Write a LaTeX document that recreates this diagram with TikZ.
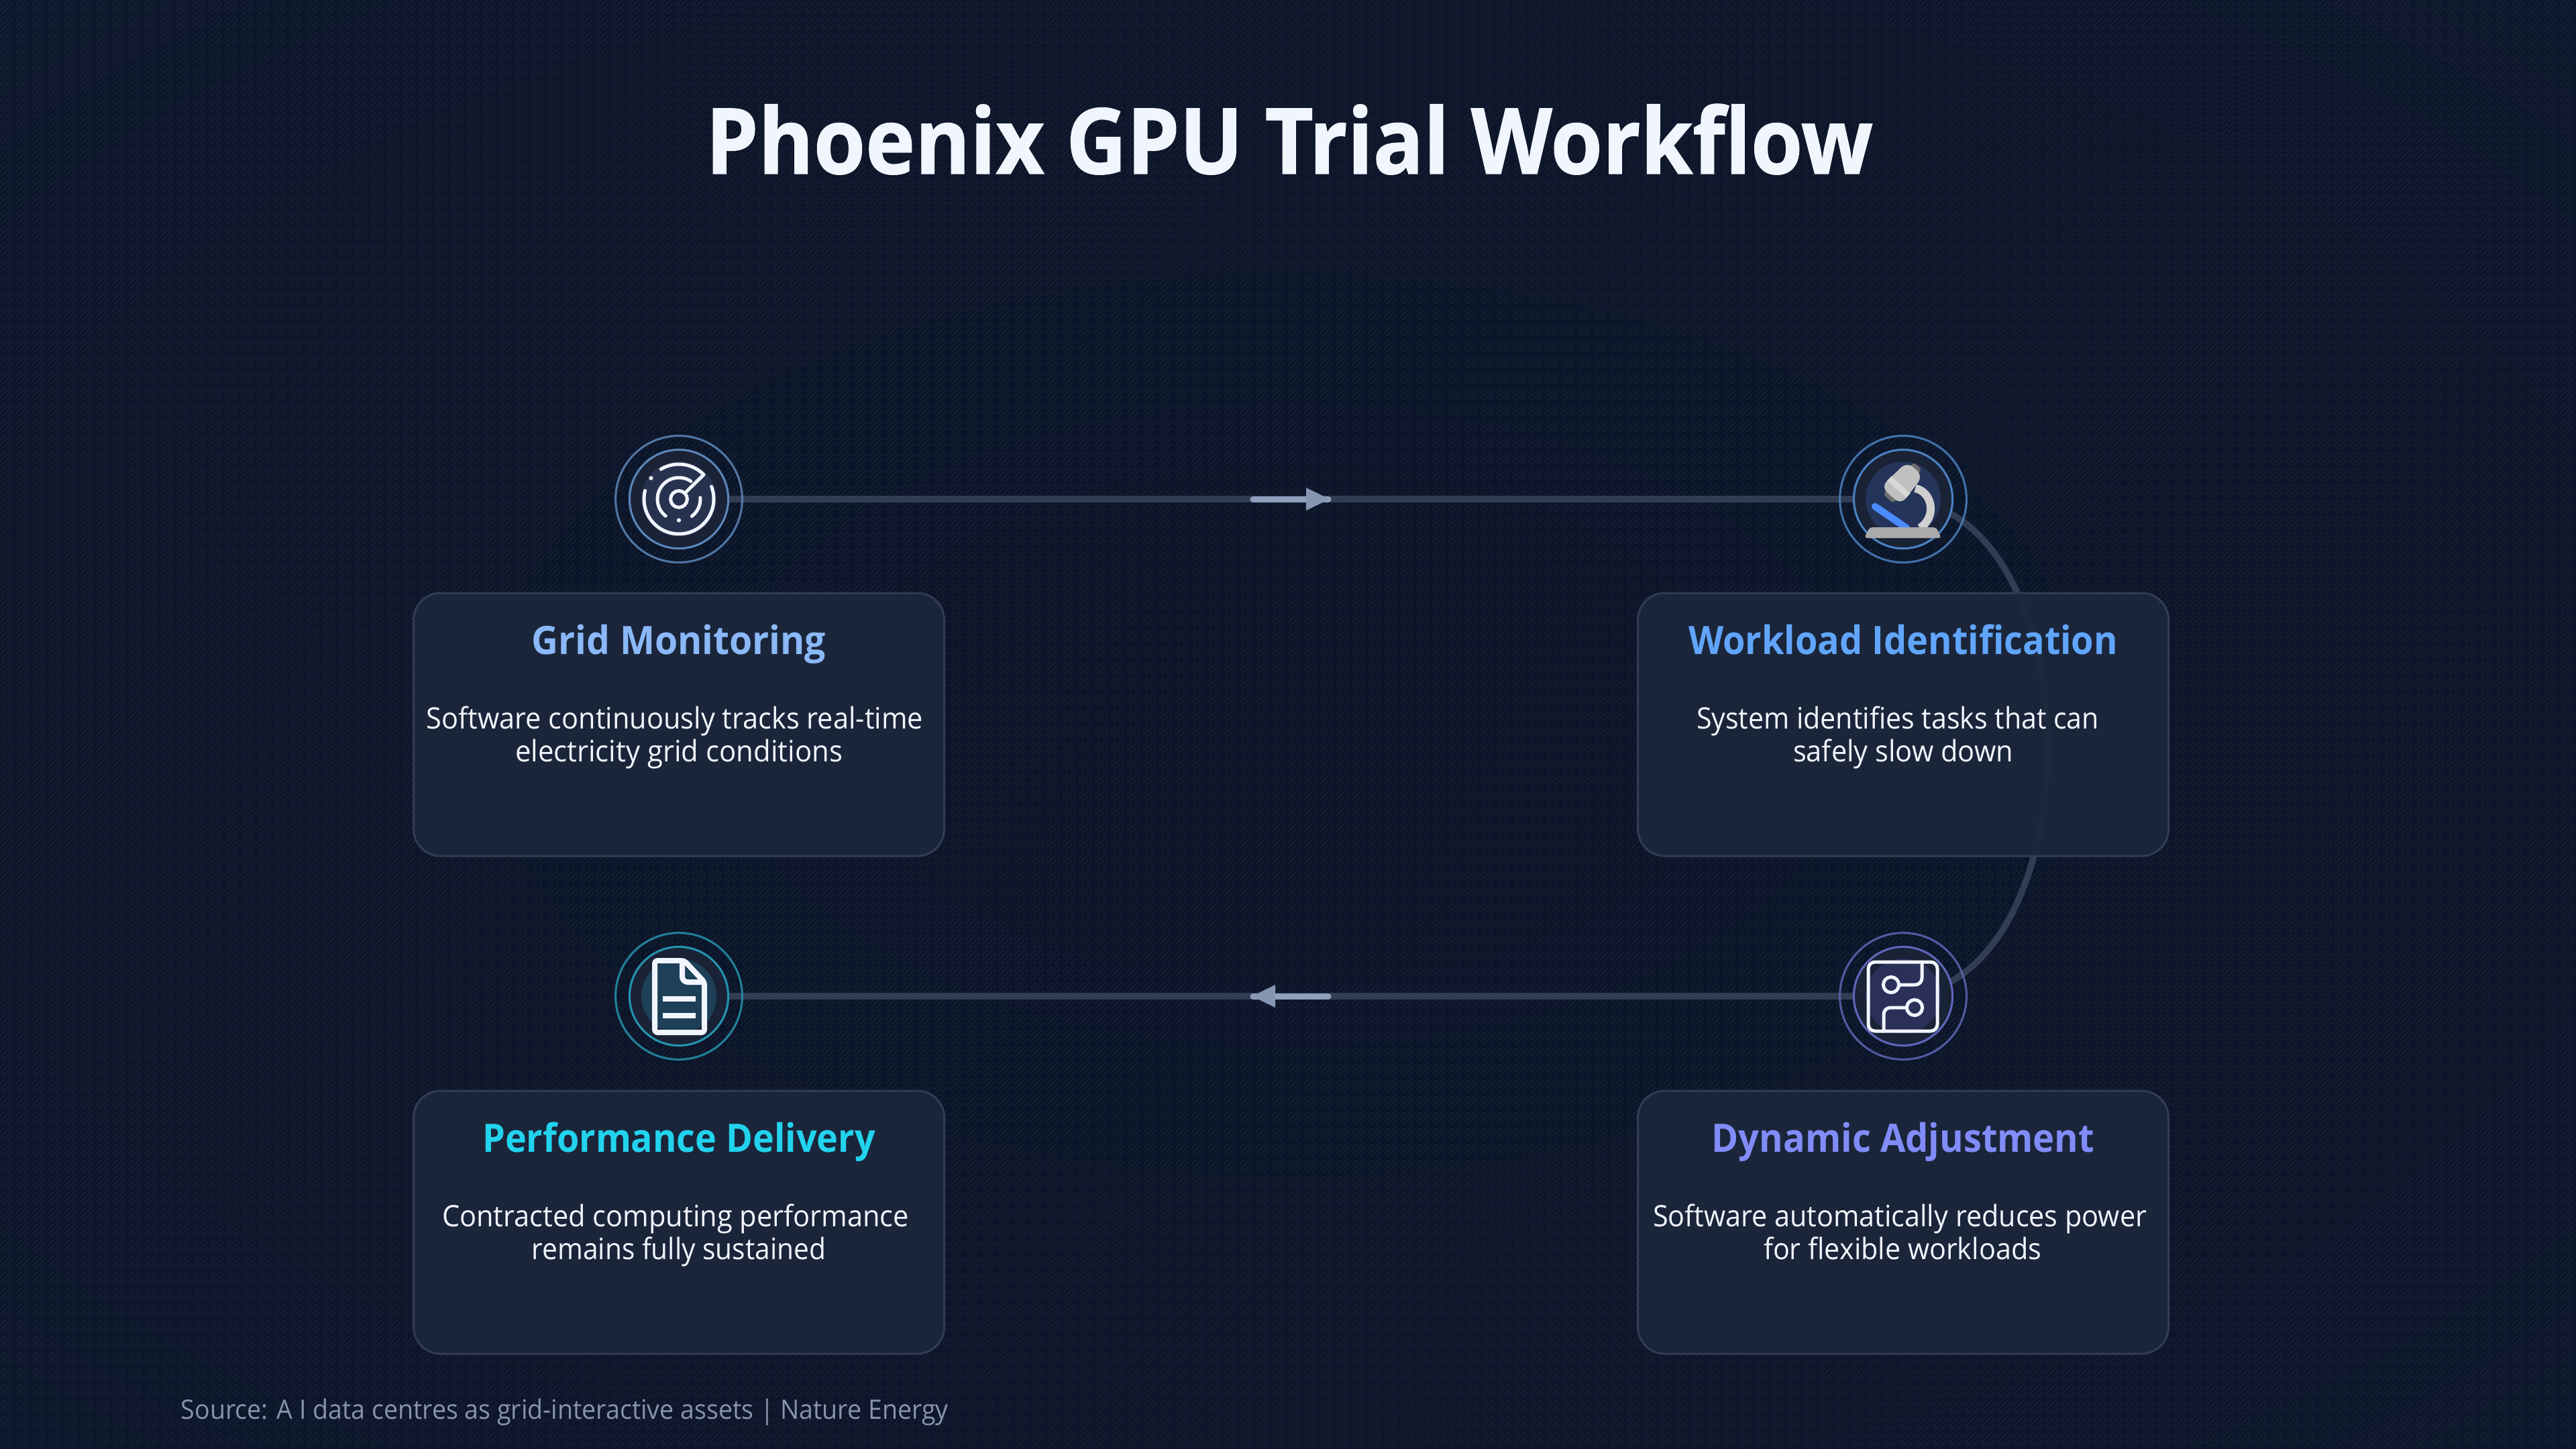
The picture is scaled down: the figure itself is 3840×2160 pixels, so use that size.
\documentclass[tikz,border=0pt]{standalone}
\usepackage{fontspec}
\usepackage{graphicx}
\setmainfont{Open Sans}
\newfontfamily\titlefont[BoldFeatures={FakeBold=1.0}]{Open Sans}
\usetikzlibrary{calc}
\definecolor{bgin}{HTML}{0B1428}
\definecolor{bgout}{HTML}{17253D}
\definecolor{cardfill}{HTML}{1C273C}
\definecolor{cardedge}{HTML}{323C52}
\definecolor{linkc}{HTML}{323D53}
\definecolor{arrowc}{HTML}{8F9FBD}
\definecolor{iconw}{HTML}{F1F5FD}
\definecolor{ringbg}{HTML}{1A2236}
\definecolor{srcc}{HTML}{8894AB}
\definecolor{tgm}{HTML}{8AB8F8}
\definecolor{twi}{HTML}{60A5FA}
\definecolor{tda}{HTML}{818CF8}
\definecolor{tpd}{HTML}{22D3EE}
\definecolor{rgm}{HTML}{5B86B8}
\definecolor{rwi}{HTML}{4A80C0}
\definecolor{rda}{HTML}{5E65B8}
\definecolor{rpd}{HTML}{2592AD}
\definecolor{dgm}{HTML}{27324F}
\definecolor{dwi}{HTML}{24345A}
\definecolor{dda}{HTML}{2A3058}
\definecolor{dpd}{HTML}{1D4058}
\definecolor{mbar}{HTML}{4A8CFF}
\definecolor{marm}{HTML}{CFCFCF}
\definecolor{mcap}{HTML}{6E6E6E}
\definecolor{mhead}{HTML}{C0C0C0}
\definecolor{mband}{HTML}{D8D8D8}
\definecolor{mbase}{HTML}{AAAAAA}
\pgfdeclareradialshading{bgshade}{\pgfpointorigin}{color(0bp)=(bgin); color(30bp)=(bgin!92!bgout); color(72bp)=(bgout)}
\newcommand{\fitw}[2]{\resizebox{#1pt}{\height}{\mbox{#2}}}
\tikzset{
  x=0.25pt,y=-0.25pt,
  card/.style={draw=cardedge,line width=0.75pt,fill=cardfill,fill opacity=0.93,rounded corners=10pt,minimum width=197.75pt,minimum height=98pt,inner sep=0pt},
  ttl/.style={font=\fontsize{14.6pt}{18pt}\selectfont\bfseries,anchor=base,inner sep=0pt},
  bodytxt/.style={font=\fontsize{11pt}{12.25pt}\selectfont,text=iconw,anchor=base,inner sep=0pt},
  link/.style={draw=linkc,line width=2.4pt},
  ringline/.style={line width=0.78pt},
  icn/.style={draw=iconw,line width=1.25pt,line cap=round,line join=round},
  anchorpt/.style={circle,minimum size=0pt,inner sep=0pt},
  hatch/.style={draw=white,draw opacity=0.042,line width=0.45pt},
}
\newcommand{\hubdisc}[3]{%
  \draw[#2,ringline,draw opacity=.85] (#1) circle[radius=23.6pt];
  \fill[ringbg] (#1) circle[radius=18.4pt];
  \draw[#2,ringline] (#1) circle[radius=18.4pt];
  \fill[#3] (#1) circle[radius=14pt];
}
\begin{document}
\begin{tikzpicture}
\useasboundingbox (0,0) rectangle (3840,2160);
\shade[shading=bgshade] (0,0) rectangle (3840,2160);
\begin{scope}
\clip (0,0) rectangle (3840,2160);
\draw[hatch,dash pattern=on 0pt off 1.06pt on 6.36pt off 1.06pt]
  foreach \n in {0,...,250}{ ({24*(\n-90)},2160) -- ++(2184,-2184) };
\draw[hatch,dash pattern=on 3pt off 1.24pt on 3pt off 1.24pt]
  foreach \n in {0,...,250}{ ({24*(\n-90)},2168) -- ++(2184,-2184) };
\draw[hatch,dash pattern=on 6pt off 2.48pt]
  foreach \n in {0,...,250}{ ({24*(\n-90)},2176) -- ++(2184,-2184) };
\end{scope}

% hub positions
\node[anchorpt] (gm) at (1012,744) {};
\node[anchorpt] (wi) at (2837,744) {};
\node[anchorpt] (da) at (2837,1485) {};
\node[anchorpt] (pd) at (1012,1485) {};

% connectors
\draw[link] (gm.center) -- (wi.center);
\draw[link] (wi.center) .. controls (3124,766) and (3124,1463) .. (da.center);
\draw[link] (da.center) -- (pd.center);

% arrow markers
\coordinate (a1s) at (1868,744); \coordinate (a1e) at (1980,744);
\coordinate (a2s) at (1980,1485); \coordinate (a2e) at (1868,1485);
\draw[arrowc,line width=2.25pt,line cap=round] (a1s) -- (a1e);
\fill[arrowc!90!linkc] (1947,727) -- (1982,744) -- (1947,761) -- cycle;
\draw[arrowc,line width=2.25pt,line cap=round] (a2s) -- (a2e);
\fill[arrowc!90!linkc] (1901,1468) -- (1866,1485) -- (1901,1502) -- cycle;

% cards
\node[card] (c1) at (1012,1080) {};
\node[card] (c2) at (2837,1080) {};
\node[card] (c3) at (2837,1822) {};
\node[card] (c4) at (1012,1822) {};

% hubs
\hubdisc{gm}{rgm}{dgm}
\hubdisc{wi}{rwi}{dwi}
\hubdisc{da}{rda}{dda}
\hubdisc{pd}{rpd}{dpd}

% radar icon
\begin{scope}[shift={(gm.center)}]
  \draw[icn] (0,0) circle[radius=3.1pt];
  \draw[icn] (166:13pt) arc[start angle=166,end angle=381,radius=13pt];
  \draw[icn] (121:13pt) arc[start angle=121,end angle=44.5,radius=13pt] -- (45:3.1pt);
  \draw[icn] (232:8pt) arc[start angle=232,end angle=56,radius=8pt];
  \draw[icn] (4:8pt) arc[start angle=4,end angle=-53,radius=8pt];
  \fill[iconw] (143:13pt) circle[radius=.78pt];
  \fill[iconw] (270:7.9pt) circle[radius=.78pt];
\end{scope}

% microscope icon
\coordinate (mbar1) at (2795,755); \coordinate (mbar2) at (2842,787);
\draw[mbar,line width=2.6pt,line cap=round] (mbar1) -- (mbar2);
\draw[marm,line width=3pt] (2855,728) .. controls (2880,733) and (2888,770) .. (2862,787);
\begin{scope}[shift={(2836.7,719)},rotate=-42]
  \fill[mcap,rounded corners=1pt] (-8,-33) rectangle (8,-20);
  \fill[mcap,rounded corners=1pt] (-10,20) rectangle (10,33);
  \fill[mhead,rounded corners=3pt] (-16,-27) -- (16,-27) -- (20,27) -- (-20,27) -- cycle;
  \fill[mband] (-19,5) rectangle (19,14);
\end{scope}
\fill[mbase,rounded corners=1pt] (2779,802) -- (2787,786) -- (2886,786) -- (2894,802) -- cycle;

% circuit icon
\draw[icn,rounded corners=2.5pt] (2785,1434) rectangle (2888,1537);
\draw[icn] (2819,1468) circle[radius=2.9pt];
\draw[icn] (2854,1502) circle[radius=2.9pt];
\draw[icn,rounded corners=2.5pt] (2830.5,1468) -- (2865,1468) -- (2865,1434);
\draw[icn,rounded corners=2.5pt] (2842.5,1502) -- (2808,1502) -- (2808,1537);

% document icon
\draw[icn,line width=2pt,rounded corners=1pt] (976,1432) -- (1020,1432) -- (1050,1464) -- (1050,1539) -- (976,1539) -- cycle;
\draw[icn,line width=2pt,rounded corners=2pt] (1017,1434) -- (1017,1464) -- (1048,1464);
\draw[iconw,line width=2pt] (988,1489) -- (1037,1489);
\draw[iconw,line width=2pt] (988,1514) -- (1037,1514);

% title
\node[anchor=base,font=\titlefont\fontsize{34pt}{38pt}\selectfont\bfseries,text=iconw,inner sep=0pt] (title) at (1922,259) {\fitw{435}{Phoenix GPU Trial Workflow}};

% card titles
\node[ttl,text=tgm] (t1) at (1012,975) {\fitw{109.6}{Grid Monitoring}};
\node[ttl,text=twi] (t2) at (2837,975) {\fitw{160}{Workload Identification}};
\node[ttl,text=tda] (t3) at (2837,1717) {\fitw{142.6}{Dynamic Adjustment}};
\node[ttl,text=tpd] (t4) at (1012,1717) {\fitw{146.4}{Performance Delivery}};

% card bodies
\node[bodytxt] (b1a) at (1006,1086) {\fitw{185}{Software continuously tracks real-time}};
\node[bodytxt] (b1b) at (1012,1135) {\fitw{122}{electricity grid conditions}};
\node[bodytxt] (b2a) at (2829,1086) {\fitw{150}{System identifies tasks that can}};
\node[bodytxt] (b2b) at (2837,1135) {\fitw{82}{safely slow down}};
\node[bodytxt] (b3a) at (2832,1828) {\fitw{184}{Software automatically reduces power}};
\node[bodytxt] (b3b) at (2836,1877) {\fitw{103.5}{for flexible workloads}};
\node[bodytxt] (b4a) at (1007,1828) {\fitw{174}{Contracted computing performance}};
\node[bodytxt] (b4b) at (1012,1877) {\fitw{109.6}{remains fully sustained}};

% source
\node[anchor=base west,inner sep=0pt,text=srcc,font=\fontsize{10pt}{12pt}\selectfont] (src) at (269,2115) {\fitw{286}{Source: A I data centres as grid-interactive assets | Nature Energy}};
\end{tikzpicture}
\end{document}
